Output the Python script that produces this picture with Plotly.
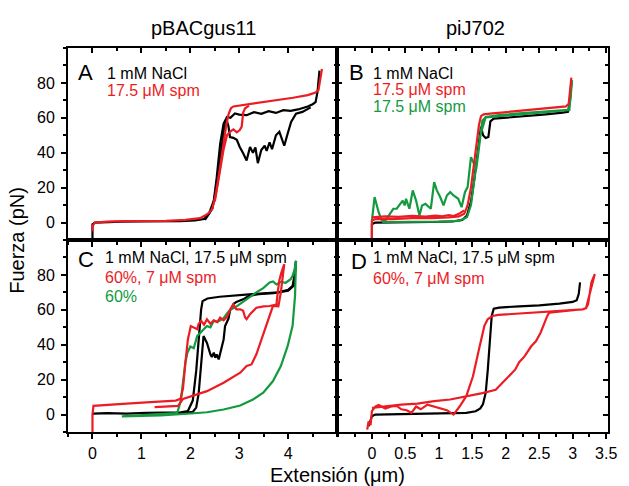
import plotly.graph_objects as go

W, H = 629, 486
RED = "#ec1c24"
GREEN = "#139a3f"
BLACK = "#000000"
FONT = "Liberation Sans, Arial, sans-serif"

# ---------------- Panel A (pBACgus11, 1 mM NaCl vs 17.5 uM spm) ----------------
A_black1_x = [0, 0, 0.05, 0.3, 0.6, 1.0, 1.4, 1.8, 2.1, 2.28, 2.38, 2.48, 2.54, 2.61, 2.68, 2.75, 2.82, 2.91, 3.0, 3.15, 3.3, 3.45, 3.6, 3.75, 3.9, 4.05, 4.2, 4.3, 4.4, 4.5, 4.56, 4.6, 4.64]
A_black1_y = [-10, -1, 0, 0.3, 0.5, 0.6, 0.6, 0.8, 1.2, 2, 5, 12.6, 26, 45, 56.7, 60.5, 60, 62.5, 61.8, 61.5, 63.2, 62.3, 63.8, 62.8, 64.4, 64, 64.8, 65.5, 66.5, 67.8, 69, 75, 87]
A_black2_x = [2.3, 2.45, 2.55, 2.62, 2.68, 2.74, 2.78, 2.81, 2.88, 2.95, 3.01, 3.08, 3.15, 3.22, 3.28, 3.33, 3.38, 3.45, 3.52, 3.56, 3.62, 3.67, 3.75, 3.82, 3.87, 3.92, 3.99, 4.06, 4.16, 4.29, 4.46]
A_black2_y = [1.5, 8, 22, 40, 52, 59, 55, 49, 48.5, 47.4, 43.3, 39.7, 35.6, 43.3, 40, 43, 34, 41.6, 44, 41, 46, 42, 50, 52, 48, 44, 51, 57.7, 62.4, 63.4, 66]
A_red1_x = [0, 0, 0.05, 0.3, 0.7, 1.1, 1.5, 1.9, 2.2, 2.3, 2.38, 2.45, 2.52, 2.6, 2.67, 2.73, 2.78, 2.83, 2.88, 3.0, 3.2, 3.5, 3.8, 4.1, 4.4, 4.56, 4.62, 4.66, 4.69]
A_red1_y = [-5, -2, 0, 0.5, 0.8, 0.7, 0.9, 1.5, 2.5, 4, 5.5, 8, 16, 30, 44, 55, 62, 65.5, 66.5, 67, 67.8, 69, 70, 71.5, 73, 74.5, 76, 82, 88]
A_red2_x = [2.5, 2.6, 2.68, 2.75, 2.81, 2.88, 2.95, 3.01, 3.05, 3.08, 3.12, 3.2]
A_red2_y = [12, 28, 42, 50, 52, 53.4, 51.7, 53, 55, 63, 65.5, 67]

# ---------------- Panel B (piJ702) ----------------
B_black_x = [0, 0, 0.05, 0.3, 0.6, 0.9, 1.2, 1.35, 1.42, 1.48, 1.53, 1.57, 1.6, 1.63, 1.66, 1.7, 1.74, 1.77, 1.82, 2.0, 2.3, 2.6, 2.85, 2.93, 2.96, 2.98]
B_black_y = [-10, -1, 0, 0, 0, 0.3, 0.6, 1.5, 4, 12, 25, 38, 48, 55, 50, 48.4, 49, 58, 59.5, 60, 61, 62, 63, 63.4, 70, 80]
B_green_x = [0.0, 0.02, 0.04, 0.1, 0.15, 0.2, 0.27, 0.32, 0.37, 0.42, 0.46, 0.49, 0.51, 0.56, 0.61, 0.66, 0.71, 0.75, 0.8, 0.88, 0.93, 0.97, 1.02, 1.07, 1.12, 1.17, 1.22, 1.29, 1.34, 1.39, 1.43, 1.48, 1.53, 1.56, 1.6, 1.65, 1.7, 1.9, 2.2, 2.5, 2.8, 2.94, 2.97, 2.99, 2.95, 2.6, 2.0, 1.7, 1.62, 1.55, 1.48, 1.42, 1.3, 1.0, 0.6, 0.15]
B_green_y = [1, 8, 14.6, 5.9, 1.1, 1.1, 5, 7.9, 7.9, 10.7, 12.6, 9.8, 13.6, 7.9, 18.4, 12.6, 4, 9.8, 10.7, 7.9, 23.2, 18.4, 14.6, 9.8, 15.5, 17.4, 15.5, 13.6, 8.8, 17.4, 20.3, 37.5, 32.7, 30.8, 43, 58.4, 60.5, 61.5, 62.5, 63.5, 64.2, 64.6, 72, 81.6, 64.5, 63.3, 61.4, 60.3, 50, 30, 10, 3, 1, 0.5, 0.3, 0.3]
B_red2_x = [0.0, 0.2, 0.4, 0.6, 0.8, 0.95, 1.05, 1.15, 1.22, 1.3, 1.38]
B_red2_y = [3, 3.5, 3.2, 3.8, 3.4, 4, 3.6, 4.2, 3.7, 5, 7]
B_red_x = [0, 0, 0.05, 0.3, 0.6, 0.9, 1.15, 1.3, 1.38, 1.43, 1.48, 1.53, 1.57, 1.6, 1.63, 1.67, 1.8, 2.1, 2.4, 2.7, 2.9, 2.94, 2.96, 2.98]
B_red_y = [-10, 1, 2, 2, 2.5, 2.5, 3, 3.5, 5, 10, 20, 35, 48, 56, 61, 62, 62.5, 63.5, 64.5, 65.5, 66.5, 68, 75, 83]

# ---------------- Panel C (pBACgus11) ----------------
C_black1_x = [0, 0.02, 0.3, 0.7, 1.1, 1.5, 1.8, 1.95, 2.05, 2.12, 2.18, 2.22, 2.25, 2.35, 2.6, 2.9, 3.2, 3.5, 3.8, 4.0, 4.09, 4.13, 4.16]
C_black1_y = [0, 0.5, 0.8, 0.5, 1, 1.2, 1.3, 2, 8, 25, 48, 60, 65, 66.5, 67.5, 68, 68.8, 69.5, 70, 71.5, 73.7, 80, 88]
C_black2_x = [4.16, 4.12, 4.0, 3.7, 3.4, 3.2, 3.08, 2.94, 2.88, 2.81, 2.78, 2.71, 2.68, 2.64, 2.61, 2.58, 2.54, 2.51, 2.48, 2.44, 2.41, 2.34, 2.27, 2.22, 2.17, 2.12, 2.05, 1.9, 1.7]
C_black2_y = [88, 74, 71, 69.5, 69, 68, 66, 64.5, 63.2, 59.4, 55, 50.7, 43, 38, 35, 31.6, 34.5, 32.5, 35.5, 33, 34.5, 41, 45, 30, 12, 4, 1.5, 1, 0.8]
C_green_x = [0.6, 0.8, 1.0, 1.2, 1.4, 1.6, 1.7, 1.74, 1.78, 1.81, 1.84, 1.87, 1.9, 1.94, 2.0, 2.07, 2.14, 2.21, 2.27, 2.34, 2.41, 2.48, 2.55, 2.68, 2.75, 2.81, 2.94, 3.08, 3.22, 3.35, 3.49, 3.62, 3.69, 3.76, 3.85, 3.95, 4.05, 4.09, 4.13, 4.16,
             4.14, 4.09, 3.99, 3.85, 3.69, 3.49, 3.28, 3.02, 2.68, 2.34, 2.01, 1.74, 1.4, 1.0, 0.6]
C_green_y = [-1, -0.8, -0.5, 0, 0.3, 0.6, 0.8, 1.5, 5, 8.6, 16, 24, 30, 35.4, 39, 38, 45, 47, 48.5, 50.7, 50, 53.7, 53, 55.2, 58, 59.9, 61.8, 64.7, 67.6, 70, 72.4, 75.7, 76.2, 74.5, 76, 75.5, 77.5, 79.5, 83, 88,
             68, 50.8, 39.3, 27.8, 19.2, 12.5, 8.6, 5.2, 2.9, 1.3, 0.6, 0, -0.5, -0.8, -1]
C_red_x = [0, 0, 0.02, 0.3, 0.7, 1.1, 1.5, 1.7, 1.8, 1.85, 1.9, 1.95, 2.01, 2.07, 2.14, 2.17, 2.22, 2.28, 2.34, 2.41, 2.48, 2.55, 2.61, 2.68, 2.75, 2.81, 2.88, 2.94, 3.02, 3.08, 3.12, 3.15, 3.22, 3.35, 3.5, 3.62, 3.76, 3.79, 3.82, 3.86, 3.92,
           3.85, 3.8, 3.69, 3.62, 3.48, 3.35, 3.25, 3.15, 3.02, 2.68, 2.34, 2.01, 1.85, 1.75, 1.5, 1.27]
C_red_y = [-10, 0, 5, 5.7, 6.3, 7, 7.7, 8, 9, 15, 30, 43, 50.7, 50, 48.9, 52, 53.7, 51.5, 54.6, 52, 54, 53, 55.5, 54, 56, 59.9, 63.2, 60.3, 60.3, 59.4, 55.6, 54.6, 57.5, 61.2, 62, 62.2, 63, 70.8, 77, 81.4, 86.2,
           70, 62, 62.3, 56.5, 45, 34.5, 28.7, 27.8, 24, 18.2, 13.4, 10.6, 9, 5, 4.5, 4.2]

# ---------------- Panel D (piJ702) ----------------
D_black_x = [-0.05, -0.02, 0.0, 0.05, 0.3, 0.6, 0.9, 1.2, 1.41, 1.55, 1.62, 1.66, 1.70, 1.73, 1.75, 1.77, 1.79, 1.82, 1.9, 2.2, 2.5, 2.8, 3.0, 3.06, 3.09, 3.11]
D_black_y = [-6.7, -3, -1, 0, 0.2, 0.3, 0.5, 0.7, 1, 1.9, 3.5, 6, 12.5, 25, 37.4, 48, 56.5, 60.7, 61.3, 62, 62.5, 63.5, 64.5, 65.5, 69, 75.7]
D_red_x = [-0.07, -0.05, -0.02, 0.0, 0.05, 0.1, 0.2, 0.29, 0.37, 0.44, 0.52, 0.59, 0.66, 0.73, 0.83, 0.93, 1.02, 1.12, 1.22, 1.31, 1.41, 1.51, 1.60, 1.68, 1.73, 1.80, 1.89, 2.1, 2.38, 2.6, 2.86, 3.05, 3.15, 3.2, 3.23, 3.28, 3.33,
           3.2, 3.15, 2.9, 2.65, 2.62, 2.57, 2.52, 2.45, 2.38, 2.28, 2.2, 2.14, 1.99, 1.85, 1.65, 1.41, 1.17, 0.93, 0.68, 0.44, 0.2, 0.0]
D_red_y = [-8.6, -4, -6, 2, 4.6, 5.5, 3.5, 4.6, 5, 3, 2.5, 1, 4.6, 3, 5.7, 4.6, 3.5, 2.5, 0, 4.6, 10.5, 21.9, 37.4, 50.8, 54.6, 56.5, 57.1, 57.6, 58.4, 58.9, 59.4, 59.8, 60.3, 61, 63.2, 75.7, 80.5,
           61, 60.3, 59.4, 58.4, 56.5, 52, 46.9, 42, 39.1, 33.3, 30, 25.7, 19.9, 14.2, 12.3, 10.5, 8.6, 7.7, 6.3, 5.7, 4.8, 3.8]

# ---------------- labels ----------------
col_titles = ["pBACgus11", "piJ702"]
panel_letters = ["A", "B", "C", "D"]
y_title = "Fuerza (pN)"
x_title = "Extensión (μm)"
left_xticks = [0, 1, 2, 3, 4]
right_xticks = [0, 0.5, 1, 1.5, 2, 2.5, 3, 3.5]
yticks = [0, 20, 40, 60, 80]

fig = go.Figure()

def add(x, y, color, xa, ya):
    fig.add_trace(go.Scatter(x=x, y=y, mode="lines", xaxis=xa, yaxis=ya,
                             line=dict(color=color, width=2.2), showlegend=False,
                             hoverinfo="skip"))

add(A_black1_x, A_black1_y, BLACK, "x", "y")
add(A_black2_x, A_black2_y, BLACK, "x", "y")
add(A_red1_x, A_red1_y, RED, "x", "y")
add(A_red2_x, A_red2_y, RED, "x", "y")

add(B_black_x, B_black_y, BLACK, "x2", "y2")
add(B_green_x, B_green_y, GREEN, "x2", "y2")
add(B_red2_x, B_red2_y, RED, "x2", "y2")
add(B_red_x, B_red_y, RED, "x2", "y2")

add(C_black1_x, C_black1_y, BLACK, "x3", "y3")
add(C_black2_x, C_black2_y, BLACK, "x3", "y3")
add(C_green_x, C_green_y, GREEN, "x3", "y3")
add(C_red_x, C_red_y, RED, "x3", "y3")

add(D_black_x, D_black_y, BLACK, "x4", "y4")
add(D_red_x, D_red_y, RED, "x4", "y4")

# dummy traces registering mirror axes
for i in range(4):
    xs = "" if i == 0 else str(i + 1)
    fig.add_trace(go.Scatter(x=[], y=[], xaxis="x" + str(i + 5), yaxis="y" + xs, showlegend=False))
    fig.add_trace(go.Scatter(x=[], y=[], xaxis="x" + xs, yaxis="y" + str(i + 5), showlegend=False))

XL = [69 / W, 342 / W]
XR = [342 / W, 617 / W]
YT = [1 - 240 / H, 1 - 48 / H]
YB = [1 - 432 / H, 1 - 240 / H]
XRANGE_L = [-0.5, 5.0]
XRANGE_R = [-0.52, 3.53]
YRANGE = [-10, 100]

tickfont = dict(family=FONT, size=16, color="black")
common = dict(showline=True, linewidth=2, linecolor="black", showgrid=False, zeroline=False,
              ticklen=5, tickwidth=1.5, tickcolor="black", tickfont=tickfont)

def xax(domain, anchor, rng, tickvals, minor_dtick, labels, ticksdir, side="bottom", overlay=None):
    d = dict(common, domain=domain, anchor=anchor, range=rng, tickmode="array", tickvals=tickvals,
             ticktext=[("%g" % v) for v in tickvals], ticks=ticksdir, showticklabels=labels, side=side,
             minor=dict(ticks=ticksdir, dtick=minor_dtick, tick0=0, ticklen=3, tickwidth=1.5, tickcolor="black"),
             ticklabelstandoff=1)
    if overlay:
        d["overlaying"] = overlay
    return d

def yax(domain, anchor, labels, ticksdir, side="left", overlay=None):
    d = dict(common, domain=domain, anchor=anchor, range=YRANGE, tickmode="array", tickvals=yticks,
             ticks=ticksdir, showticklabels=labels, side=side,
             minor=dict(ticks=ticksdir, dtick=10, tick0=0, ticklen=3, tickwidth=1.5, tickcolor="black"),
             ticklabelstandoff=3)
    if overlay:
        d["overlaying"] = overlay
    return d

fig.update_layout(
    width=W, height=H, margin=dict(l=0, r=0, t=0, b=0),
    paper_bgcolor="white", plot_bgcolor="white", showlegend=False,
    xaxis=xax(XL, "y", XRANGE_L, left_xticks, 0.5, False, "outside"),
    yaxis=yax(YT, "x", True, "outside"),
    xaxis2=xax(XR, "y2", XRANGE_R, right_xticks, 0.25, False, "outside"),
    yaxis2=yax(YT, "x2", False, "inside"),
    xaxis3=xax(XL, "y3", XRANGE_L, left_xticks, 0.5, True, "outside"),
    yaxis3=yax(YB, "x3", True, "outside"),
    xaxis4=xax(XR, "y4", XRANGE_R, right_xticks, 0.25, True, "outside"),
    yaxis4=yax(YB, "x4", False, "inside"),
    xaxis5=xax(XL, "y", XRANGE_L, left_xticks, 0.5, False, "inside", "top", "x"),
    xaxis6=xax(XR, "y2", XRANGE_R, right_xticks, 0.25, False, "inside", "top", "x2"),
    xaxis7=xax(XL, "y3", XRANGE_L, left_xticks, 0.5, False, "inside", "top", "x3"),
    xaxis8=xax(XR, "y4", XRANGE_R, right_xticks, 0.25, False, "inside", "top", "x4"),
    yaxis5=yax(YT, "x", False, "inside", "right", "y"),
    yaxis6=yax(YT, "x2", False, "inside", "right", "y2"),
    yaxis7=yax(YB, "x3", False, "inside", "right", "y3"),
    yaxis8=yax(YB, "x4", False, "inside", "right", "y4"),
)

def P(px, py):
    return px / W, 1 - py / H

def note(text, px, py, size, color="black", xanchor="left", angle=0):
    x, y = P(px, py)
    fig.add_annotation(text=text, x=x, y=y, xref="paper", yref="paper", showarrow=False,
                       xanchor=xanchor, yanchor="middle", textangle=angle,
                       font=dict(family=FONT, size=size, color=color))

note(col_titles[0], 206, 28, 20, xanchor="center")
note(col_titles[1], 482, 28, 20, xanchor="center")
note(y_title, 17, 240, 20, xanchor="center", angle=-90)
note(x_title, 342, 475, 20, xanchor="center")

note(panel_letters[0], 77, 72, 22)
note("1 mM NaCl", 107, 73, 16)
note("17.5 μM spm", 107, 91, 16, RED)

note(panel_letters[1], 352, 72, 22)
note("1 mM NaCl", 376, 73, 16)
note("17.5 μM spm", 376, 90, 16, RED)
note("17.5 μM spm", 376, 107, 16, GREEN)

note(panel_letters[2], 77, 259, 22)
note("1 mM NaCl, 17.5 μM spm", 104, 257, 16)
note("60%, 7 μM spm", 104, 277, 16, RED)
note("60%", 104, 296, 16, GREEN)

note(panel_letters[3], 354, 261, 22)
note("1 mM NaCl, 17.5 μM spm", 376, 257, 16)
note("60%, 7 μM spm", 376, 278, 16, RED)

fig.write_html("out.html")
